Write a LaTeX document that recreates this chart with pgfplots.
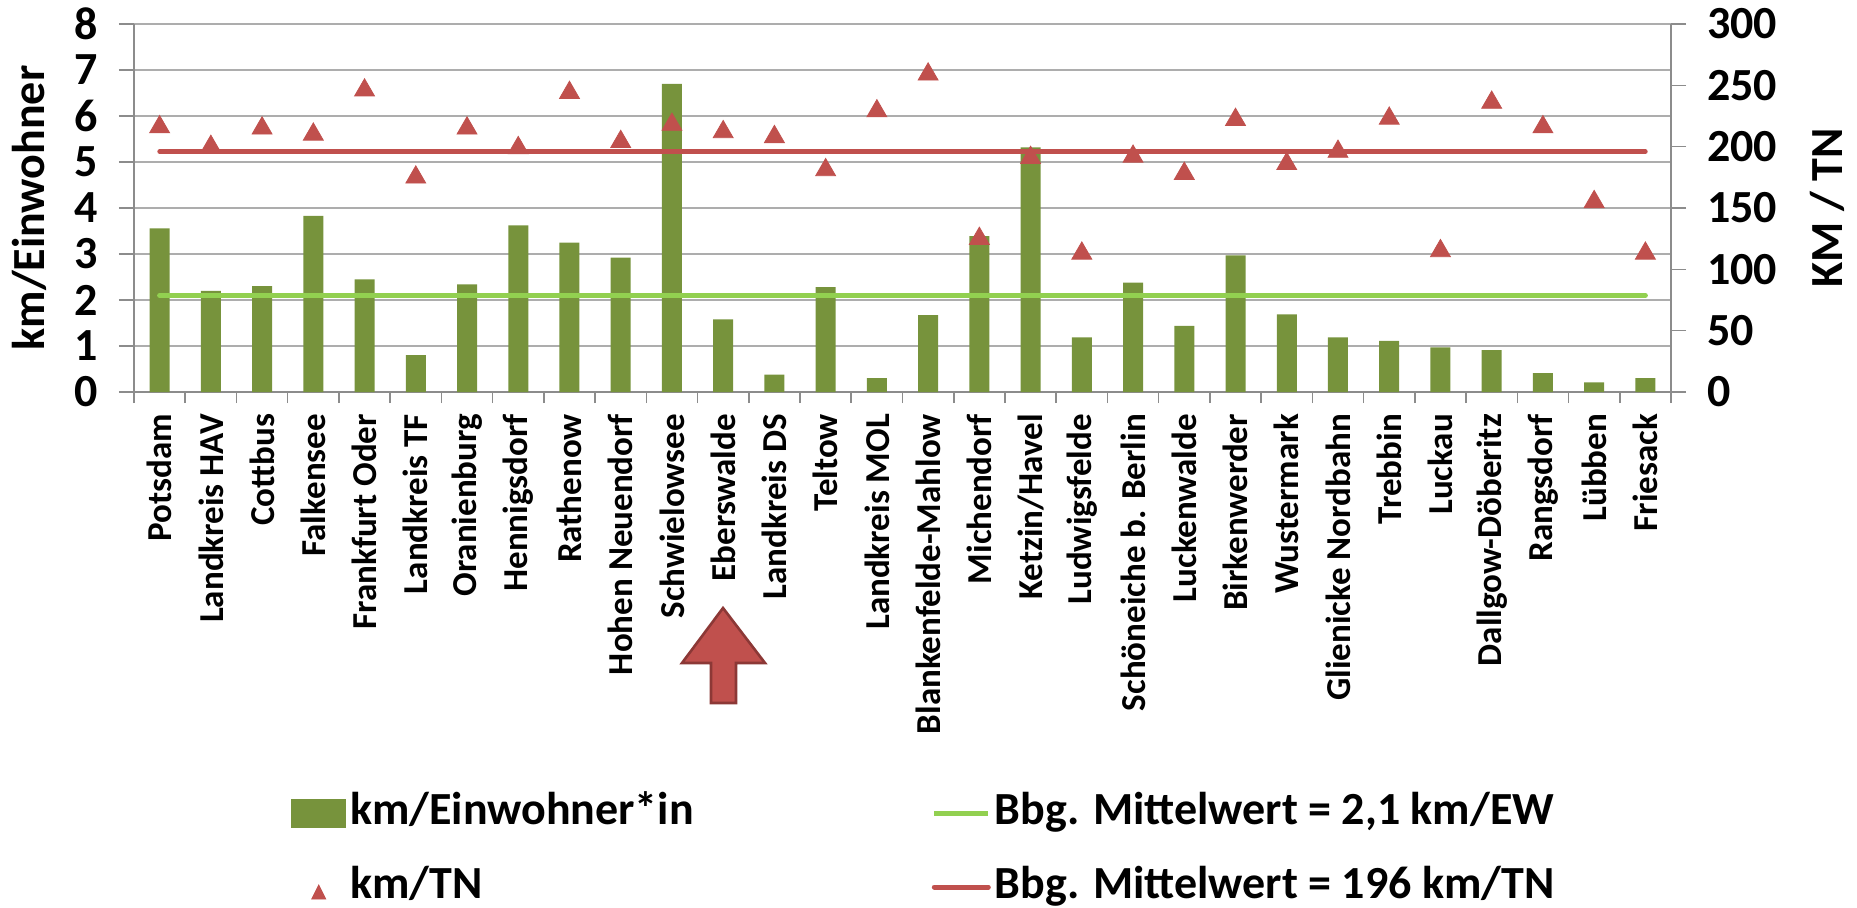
\documentclass[border=0pt]{standalone}
\usepackage{pgfplots}
\pgfplotsset{compat=1.18}
\usepackage{pgfplotstable}
\usepackage{fontspec}
\setmainfont{Carlito}

\definecolor{barGreen}{HTML}{77933C}
\definecolor{lineGreen}{HTML}{92D050}
\definecolor{triRed}{HTML}{C0504D}
\definecolor{arrowEdge}{HTML}{8C3836}
\definecolor{gridGray}{HTML}{ADADAD}
\definecolor{axisGray}{HTML}{8C8C8C}

\newcommand{\bigfont}{\fontsize{23bp}{27bp}\selectfont\bfseries}
\newcommand{\catfont}{\fontsize{17.5bp}{20bp}\selectfont\bfseries}

% idx, km per Einwohner (left), km per TN (right)
\pgfplotstableread{
idx kmew kmtn
0  3.56 216
1  2.20 200
2  2.30 215
3  3.83 210
4  2.45 246
5  0.80 175
6  2.34 215
7  3.62 199
8  3.25 244
9  2.92 204
10 6.70 218
11 1.58 212
12 0.38 208
13 2.28 181
14 0.30 229
15 1.67 259
16 3.39 125
17 5.32 191
18 1.19 113
19 2.38 192
20 1.44 178
21 2.97 222
22 1.69 186
23 1.19 196
24 1.11 223
25 0.97 115
26 0.91 236
27 0.41 216
28 0.21 155
29 0.30 113
}\datatable

\begin{document}
\begin{tikzpicture}
\useasboundingbox (-67bp,-258bp) rectangle (861.5bp,196bp);
\pgfplotsset{
  common/.style={
    scale only axis, width=768.5bp, height=184bp,
    xmin=-0.5, xmax=29.5,
    /pgf/number format/assume math mode=true,
    tick align=outside, major tick length=7.5bp,
    tick style={axisGray, line width=0.8bp},
    axis line style={axisGray, line width=0.8bp, -},
    yticklabel style={font=\bigfont},
  }
}
\begin{axis}[common,
  ymin=0, ymax=8, ytick={0,...,8},
  axis y line*=left, axis x line*=bottom,
  ymajorgrids, grid style={gridGray, line width=0.8bp},
  xtick={-0.5,0.5,...,29.5},
  x tick label as interval,
  xtick style={/pgfplots/major tick length=5.5bp},
  xticklabels={Potsdam, Landkreis HAV, Cottbus, Falkensee, Frankfurt Oder,
    Landkreis TF, Oranienburg, Hennigsdorf, Rathenow, Hohen Neuendorf,
    Schwielowsee, Eberswalde, Landkreis DS, Teltow, Landkreis MOL,
    Blankenfelde-Mahlow, Michendorf, Ketzin/Havel, Ludwigsfelde,
    Schöneiche b. Berlin, Luckenwalde, Birkenwerder, Wustermark,
    Glienicke Nordbahn, Trebbin, Luckau, Dallgow-Döberitz, Rangsdorf,
    Lübben, Friesack},
  xticklabel style={rotate=90, anchor=east, font=\catfont},
  yticklabel style={xshift=-7bp},
  ylabel={km/Einwohner},
  ylabel style={font=\bigfont, at={(axis description cs:-0.0683,0.5)}, anchor=center},
]
\addplot[ybar, bar width=10bp, fill=barGreen, draw=none] table[x=idx, y=kmew] {\datatable};
\addplot[lineGreen, line width=2.5bp, line cap=round] coordinates {(0,2.1) (29,2.1)};
\end{axis}

\begin{axis}[common,
  ymin=0, ymax=300, ytick={0,50,...,300},
  axis y line*=right, axis x line=none,
  yticklabel style={xshift=7bp},
  ylabel={KM / TN},
  ylabel style={font=\bigfont, at={(axis description cs:1.1015,0.5)}, anchor=center},
  legend columns=2,
  legend cell align=left,
  legend style={draw=none, fill=none, font=\bigfont,
    at={(axis description cs:0.5146,-1.2446)}, anchor=center,
    row sep=14bp,
    nodes={text height=17bp, text depth=6bp, inner ysep=0bp},
    /tikz/every even column/.append style={column sep=117bp}},
]
\addlegendimage{legend image code/.code={\fill[barGreen] (0bp,-7bp) rectangle (27bp,7bp);}}
\addlegendentry{km/Einwohner*in}
\addlegendimage{legend image code/.code={\draw[lineGreen, line width=2.5bp] (0bp,0bp) -- (27bp,0bp);}}
\addlegendentry{Bbg. Mittelwert = 2,1 km/EW}
\addplot[only marks, mark=triangle*, mark size=5.75bp, color=triRed,
  legend image code/.code={\fill[triRed] (10bp,-6bp) -- (17bp,-6bp) -- (13.5bp,1bp) -- cycle;}]
  table[x=idx, y=kmtn] {\datatable};
\addlegendentry{km/TN}
\addplot[triRed, line width=2.3bp, line cap=round,
  legend image code/.code={\draw[triRed, line width=2.5bp] (0bp,0bp) -- (27bp,0bp);}]
  coordinates {(0,196) (29,196)};
\addlegendentry{Bbg. Mittelwert = 196 km/TN}
\end{axis}

% marker arrow below Eberswalde
\filldraw[fill=triRed, draw=arrowEdge, line width=1.3bp, line join=miter]
  (294.5bp,-108bp) -- (315.5bp,-135.5bp) -- (301bp,-135.5bp) -- (301bp,-155.5bp)
  -- (288.5bp,-155.5bp) -- (288.5bp,-135.5bp) -- (274bp,-135.5bp) -- cycle;
\end{tikzpicture}
\end{document}
